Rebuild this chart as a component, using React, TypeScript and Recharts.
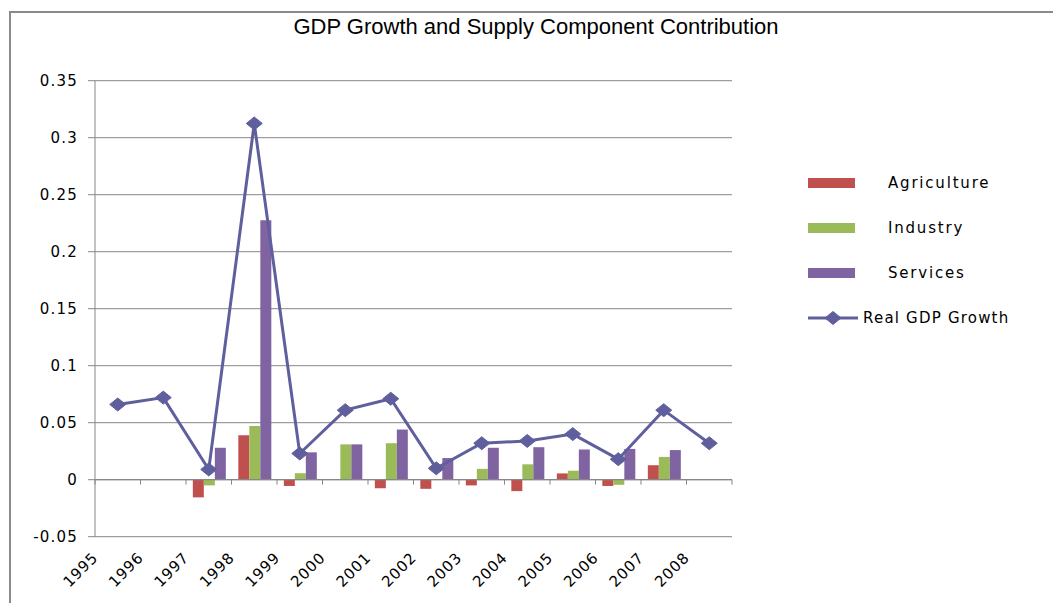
import React from "react";
import { ComposedChart, Bar, Line, XAxis, YAxis, CartesianGrid, ReferenceLine } from "recharts";

const years = ["1995", "1996", "1997", "1998", "1999", "2000", "2001", "2002", "2003", "2004", "2005", "2006", "2007", "2008"];
const agriculture = [null, null, -0.0155, 0.039, -0.0055, null, -0.0075, -0.008, -0.005, -0.01, 0.0055, -0.0055, 0.0127, null];
const industry = [null, null, -0.005, 0.047, 0.0057, 0.031, 0.032, null, 0.0095, 0.0135, 0.0079, -0.0045, 0.02, null];
const services = [null, null, 0.028, 0.2276, 0.024, 0.031, 0.044, 0.019, 0.028, 0.0285, 0.0265, 0.027, 0.026, null];
const realGdp = [0.066, 0.072, 0.009, 0.3125, 0.023, 0.061, 0.071, 0.01, 0.032, 0.034, 0.04, 0.018, 0.061, 0.032];
const yTicks = [-0.05, 0, 0.05, 0.1, 0.15, 0.2, 0.25, 0.3, 0.35];

const barSeries = [
  { key: "Agriculture", color: "#c0504d" },
  { key: "Industry", color: "#9bbb59" },
  { key: "Services", color: "#8064a2" },
];
const lineColor = "#5f5f9e";
const gridColor = "#878787";
const font = "'DejaVu Sans', Verdana, sans-serif";

const data = years.map((y, i) => ({
  year: y,
  Agriculture: agriculture[i],
  Industry: industry[i],
  Services: services[i],
  "Real GDP Growth": realGdp[i],
}));

const Diamond = ({ cx, cy }: any) => {
  if (cx == null || cy == null) return null;
  return <polygon points={`${cx - 8},${cy} ${cx},${cy - 6.5} ${cx + 8},${cy} ${cx},${cy + 6.5}`} fill={lineColor} stroke={lineColor} />;
};

const YearTick = ({ x, y, payload }: any) => (
  <text
    transform={`translate(${x - 19},${y + 22}) rotate(-45)`}
    textAnchor="end"
    fontSize={15}
    fontFamily={font}
    letterSpacing={0.8}
    fill="#000"
  >
    {payload.value}
  </text>
);

// zero axis line with tick marks at the category boundaries
const ZeroAxis = (p: any) => {
  const { x1, x2, y1 } = p;
  if (x1 == null) return null;
  const step = (x2 - x1) / years.length;
  return (
    <g>
      <line x1={x1} x2={x2} y1={y1} y2={y1} stroke={gridColor} strokeWidth={1.2} />
      {years.concat([""]).map((_, i) => (
        <line key={i} x1={x1 + i * step} x2={x1 + i * step} y1={y1} y2={y1 + 5} stroke={gridColor} />
      ))}
    </g>
  );
};

export default function App() {
  return (
    <div style={{ position: "absolute", left: 0, top: 0, width: 1053, height: 603, background: "#fff", overflow: "hidden" }}>
      <div
        style={{
          position: "absolute",
          left: 9,
          top: 11,
          width: 1044,
          height: 592,
          boxSizing: "border-box",
          borderLeft: "2px solid #8a8a8a",
          borderTop: "2px solid #8a8a8a",
        }}
      />
      <div
        style={{
          position: "absolute",
          left: 0,
          width: 1072,
          top: 14,
          textAlign: "center",
          fontFamily: "'Liberation Sans', Arial, sans-serif",
          fontSize: 22,
          color: "#000",
        }}
      >
        GDP Growth and Supply Component Contribution
      </div>
      <div style={{ position: "absolute", left: 0, top: 0 }}>
        <ComposedChart
          width={1053}
          height={603}
          data={data}
          margin={{ top: 80.7, right: 321, bottom: 6.3, left: 10 }}
          barCategoryGap="15%"
          barGap={0}
        >
          <CartesianGrid vertical={false} stroke={gridColor} strokeWidth={1} />
          <YAxis
            domain={[-0.05, 0.35]}
            ticks={yTicks}
            width={85}
            stroke={gridColor}
            tickSize={7}
            tickMargin={10}
            tickFormatter={(v: number) => String(v)}
            tick={{ fill: "#000", fontSize: 15, fontFamily: font, letterSpacing: 1.2 }}
          />
          <XAxis dataKey="year" height={60} axisLine={false} tickLine={false} tickSize={0} tickMargin={0} interval={0} tick={<YearTick />} />
          <ReferenceLine y={0} shape={<ZeroAxis />} />
          {barSeries.map((s) => (
            <Bar key={s.key} dataKey={s.key} fill={s.color} isAnimationActive={false} />
          ))}
          <Line
            dataKey="Real GDP Growth"
            stroke={lineColor}
            strokeWidth={3}
            dot={<Diamond />}
            activeDot={false}
            isAnimationActive={false}
          />
        </ComposedChart>
      </div>
      <div style={{ position: "absolute", left: 808, top: 174, fontFamily: font, fontSize: 15, letterSpacing: 1.8, color: "#000" }}>
        {barSeries.map((s) => (
          <div key={s.key} style={{ height: 45, display: "flex", alignItems: "flex-start" }}>
            <div style={{ width: 47, height: 10, background: s.color, marginTop: 4, marginRight: 33 }} />
            <span>{s.key}</span>
          </div>
        ))}
        <div style={{ height: 45, display: "flex", alignItems: "flex-start", marginTop: -4 }}>
          <svg width={52} height={26} style={{ marginRight: 3 }}>
            <line x1={0} x2={50} y1={13} y2={13} stroke={lineColor} strokeWidth={3} />
            <Diamond cx={25} cy={13} />
          </svg>
          <span style={{ letterSpacing: 1.2, marginTop: 4 }}>Real GDP Growth</span>
        </div>
      </div>
    </div>
  );
}
